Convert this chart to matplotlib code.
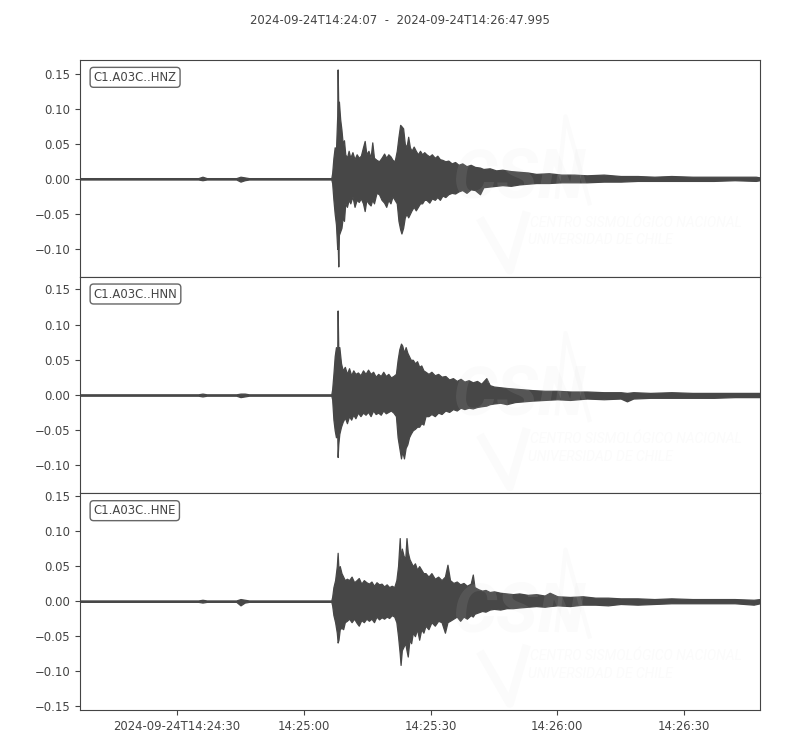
import matplotlib
matplotlib.use("Agg")
import matplotlib.pyplot as plt
import numpy as np

# ---------------- data (seconds after 2024-09-24T14:24:07, min/max envelope) -------------
title_text = "2024-09-24T14:24:07  -  2024-09-24T14:26:47.995"
trace_ids = ["C1.A03C..HNZ", "C1.A03C..HNN", "C1.A03C..HNE"]
duration = 160.995

xtick_seconds = [23, 53, 83, 113, 143]
xtick_labels = ["2024-09-24T14:24:30", "14:25:00", "14:25:30", "14:26:00", "14:26:30"]

hnz_t = [0, 28, 29, 30, 37, 38, 39, 40, 59.5, 59.7, 60.0, 60.3, 60.6, 60.9, 61.0, 61.15, 61.3,
         61.6, 61.9, 62.2, 62.5, 62.8, 63.2, 63.6, 64.0, 64.5, 65.0, 65.5, 66.0, 66.5, 67.0,
         67.4, 67.8, 68.3, 68.8, 69.2, 69.6, 70.2, 70.8, 71.4, 72.0, 72.5, 73.0, 73.5, 74.0,
         74.5, 75.0, 75.4, 75.8, 76.1, 76.5, 76.9, 77.3, 77.7, 78.1, 78.5, 79.0, 79.5, 80.0,
         80.5, 81.0, 81.5, 82.0, 82.7, 83.3, 84.0, 84.6, 85.2, 85.8, 86.5, 87.2, 88.0, 88.8,
         89.6, 90.5, 91.5, 92.5, 93.5, 94.7, 95.5, 97, 98.5, 100, 102, 104, 106, 108, 111,
         114, 117, 120, 124, 128, 132, 136, 140, 145, 150, 155, 160, 161]
hnz_max = [0.001, 0.001, 0.003, 0.001, 0.001, 0.003, 0.002, 0.001, 0.001, 0.008, 0.03, 0.045,
           0.04, 0.09, 0.156, 0.10, 0.11, 0.085, 0.07, 0.05, 0.055, 0.035, 0.03, 0.04, 0.03,
           0.038, 0.028, 0.035, 0.03, 0.033, 0.045, 0.054, 0.035, 0.04, 0.03, 0.052, 0.03,
           0.027, 0.025, 0.03, 0.036, 0.03, 0.035, 0.032, 0.027, 0.025, 0.04, 0.06, 0.077,
           0.075, 0.072, 0.05, 0.045, 0.06, 0.045, 0.04, 0.046, 0.04, 0.035, 0.04, 0.035,
           0.038, 0.035, 0.032, 0.035, 0.03, 0.033, 0.028, 0.027, 0.025, 0.026, 0.022, 0.024,
           0.02, 0.022, 0.018, 0.02, 0.017, 0.016, 0.014, 0.015, 0.012, 0.013, 0.011, 0.01,
           0.009, 0.007, 0.008, 0.006, 0.006, 0.005, 0.006, 0.004, 0.004, 0.003, 0.004,
           0.003, 0.003, 0.003, 0.003, 0.002]
hnz_min = [-0.001, -0.001, -0.002, -0.001, -0.001, -0.004, -0.002, -0.001, -0.001, -0.006,
           -0.03, -0.05, -0.065, -0.10, -0.09, -0.125, -0.08, -0.075, -0.07, -0.055, -0.06,
           -0.035, -0.04, -0.03, -0.035, -0.025, -0.04, -0.03, -0.033, -0.028, -0.035, -0.046,
           -0.03, -0.035, -0.038, -0.03, -0.035, -0.02, -0.022, -0.03, -0.034, -0.04, -0.03,
           -0.035, -0.025, -0.03, -0.035, -0.06, -0.072, -0.078, -0.07, -0.055, -0.05, -0.055,
           -0.05, -0.045, -0.04, -0.045, -0.04, -0.035, -0.035, -0.03, -0.03, -0.034, -0.028,
           -0.03, -0.026, -0.03, -0.024, -0.026, -0.022, -0.02, -0.021, -0.018, -0.016, -0.02,
           -0.015, -0.016, -0.022, -0.012, -0.011, -0.01, -0.009, -0.01, -0.008, -0.007,
           -0.006, -0.006, -0.005, -0.005, -0.005, -0.004, -0.004, -0.003, -0.003, -0.003,
           -0.003, -0.003, -0.002, -0.003, -0.002]

hnn_t = [0, 28, 29, 30, 37, 38, 39, 40, 59.5, 59.7, 60.0, 60.3, 60.6, 60.9, 61.0, 61.15, 61.4,
         61.8, 62.2, 62.7, 63.2, 63.7, 64.2, 64.7, 65.2, 65.8, 66.4, 67.0, 67.6, 68.2, 68.8,
         69.4, 70.0, 70.6, 71.2, 71.8, 72.4, 73.0, 73.6, 74.2, 74.8, 75.2, 75.6, 76.0, 76.3,
         76.7, 77.1, 77.5, 77.9, 78.3, 78.8, 79.3, 79.8, 80.3, 80.8, 81.3, 81.8, 82.5, 83.2,
         84.0, 84.8, 85.6, 86.5, 87.4, 88.3, 89.2, 90.1, 91.0, 92.0, 93.0, 94.0, 95.0, 96.2,
         97.0, 98.0, 99.5, 101, 103, 105, 107, 110, 113, 116, 120, 124, 128, 129.5, 131, 135,
         140, 145, 150, 155, 161]
hnn_max = [0.001, 0.001, 0.002, 0.001, 0.001, 0.002, 0.002, 0.001, 0.001, 0.008, 0.03, 0.055,
           0.068, 0.06, 0.12, 0.065, 0.068, 0.045, 0.035, 0.04, 0.03, 0.038, 0.028, 0.035,
           0.03, 0.032, 0.028, 0.035, 0.03, 0.036, 0.03, 0.033, 0.026, 0.03, 0.027, 0.033,
           0.027, 0.03, 0.025, 0.027, 0.03, 0.05, 0.065, 0.073, 0.07, 0.06, 0.068, 0.06, 0.055,
           0.05, 0.05, 0.045, 0.048, 0.04, 0.042, 0.035, 0.033, 0.03, 0.033, 0.028, 0.03,
           0.026, 0.027, 0.022, 0.024, 0.02, 0.023, 0.019, 0.021, 0.018, 0.02, 0.016, 0.024,
           0.014, 0.012, 0.011, 0.01, 0.009, 0.008, 0.007, 0.006, 0.006, 0.005, 0.005, 0.004,
           0.004, 0.003, 0.004, 0.003, 0.004, 0.003, 0.003, 0.003, 0.003]
hnn_min = [-0.001, -0.001, -0.002, -0.001, -0.001, -0.003, -0.002, -0.001, -0.001, -0.006,
           -0.035, -0.05, -0.06, -0.055, -0.088, -0.07, -0.055, -0.045, -0.038, -0.032, -0.04,
           -0.03, -0.035, -0.028, -0.033, -0.025, -0.03, -0.025, -0.028, -0.024, -0.03, -0.022,
           -0.027, -0.025, -0.028, -0.022, -0.026, -0.024, -0.022, -0.025, -0.03, -0.06, -0.075,
           -0.09, -0.08, -0.09, -0.075, -0.07, -0.06, -0.055, -0.05, -0.048, -0.045, -0.045,
           -0.04, -0.042, -0.03, -0.03, -0.027, -0.03, -0.025, -0.027, -0.022, -0.024, -0.02,
           -0.022, -0.018, -0.02, -0.018, -0.019, -0.017, -0.016, -0.015, -0.013, -0.012,
           -0.011, -0.013, -0.01, -0.009, -0.008, -0.007, -0.006, -0.007, -0.005, -0.006,
           -0.005, -0.009, -0.005, -0.004, -0.004, -0.004, -0.004, -0.003, -0.003]

hne_t = [0, 28, 29, 30, 37, 38, 39, 40, 59.5, 59.7, 60.0, 60.4, 60.8, 61.0, 61.2, 61.5, 61.9,
         62.3, 62.7, 63.2, 63.7, 64.3, 64.9, 65.5, 66.0, 66.6, 67.2, 67.8, 68.4, 69.0, 69.6,
         70.2, 70.8, 71.4, 72.0, 72.6, 73.2, 73.8, 74.4, 74.9, 75.3, 75.7, 75.9, 76.2, 76.6,
         77.0, 77.3, 77.6, 78.0, 78.4, 78.8, 79.3, 79.8, 80.3, 80.8, 81.3, 81.8, 82.5, 83.2,
         84.0, 84.8, 85.6, 86.4, 87.0, 87.6, 88.4, 89.2, 90.0, 90.8, 91.6, 92.5, 93.0, 93.4,
         94.3, 95.2, 96.0, 97, 98, 99.5, 101, 102.5, 104, 106, 108, 110, 111.2, 113, 116, 119,
         122, 125, 128, 132, 136, 140, 145, 150, 155, 159.5, 161]
hne_max = [0.001, 0.001, 0.002, 0.001, 0.001, 0.003, 0.002, 0.001, 0.001, 0.006, 0.02, 0.03,
           0.05, 0.069, 0.045, 0.05, 0.04, 0.035, 0.03, 0.032, 0.03, 0.035, 0.027, 0.03, 0.033,
           0.025, 0.03, 0.027, 0.025, 0.028, 0.022, 0.027, 0.024, 0.025, 0.021, 0.024, 0.02,
           0.022, 0.02, 0.03, 0.05, 0.09, 0.06, 0.075, 0.065, 0.06, 0.09, 0.07, 0.06, 0.055,
           0.05, 0.054, 0.045, 0.05, 0.045, 0.04, 0.04, 0.035, 0.04, 0.032, 0.035, 0.03, 0.035,
           0.052, 0.03, 0.026, 0.028, 0.024, 0.026, 0.022, 0.025, 0.038, 0.02, 0.017, 0.015,
           0.016, 0.013, 0.014, 0.012, 0.011, 0.01, 0.011, 0.009, 0.01, 0.008, 0.012, 0.007,
           0.006, 0.007, 0.005, 0.005, 0.004, 0.004, 0.003, 0.004, 0.003, 0.003, 0.003, 0.002,
           0.003]
hne_min = [-0.001, -0.001, -0.002, -0.001, -0.001, -0.006, -0.002, -0.001, -0.001, -0.006,
           -0.02, -0.03, -0.045, -0.059, -0.055, -0.04, -0.038, -0.04, -0.03, -0.028, -0.025,
           -0.03, -0.025, -0.031, -0.035, -0.027, -0.03, -0.025, -0.028, -0.025, -0.03, -0.022,
           -0.026, -0.023, -0.025, -0.022, -0.024, -0.02, -0.022, -0.03, -0.05, -0.075, -0.091,
           -0.07, -0.065, -0.06, -0.07, -0.079, -0.055, -0.06, -0.045, -0.05, -0.04, -0.055,
           -0.04, -0.045, -0.035, -0.04, -0.03, -0.035, -0.028, -0.03, -0.045, -0.03, -0.028,
           -0.025, -0.022, -0.028, -0.022, -0.025, -0.02, -0.022, -0.018, -0.016, -0.014,
           -0.015, -0.012, -0.011, -0.012, -0.01, -0.01, -0.009, -0.008, -0.007, -0.008,
           -0.007, -0.006, -0.007, -0.005, -0.005, -0.006, -0.004, -0.005, -0.004, -0.003,
           -0.003, -0.003, -0.003, -0.005, -0.003]

ylims = [(-0.1396, 0.1695), (-0.1396, 0.168), (-0.1553, 0.1538)]

# ---------------- figure -------------
plt.rcParams['font.family'] = ['DejaVu Sans']
ink = '#444444'
wave = '#474747'

fig = plt.figure(figsize=(8, 7.5), dpi=100)
fig.subplots_adjust(left=0.1, right=0.95, top=0.92, bottom=0.0533, hspace=0)
axes = fig.subplots(3, 1, sharex=True)

series = [(hnz_t, hnz_max, hnz_min), (hnn_t, hnn_max, hnn_min), (hne_t, hne_max, hne_min)]

for i, (ax, (t, up, lo)) in enumerate(zip(axes, series)):
    t = np.asarray(t); up = np.asarray(up); lo = np.asarray(lo)
    ax.fill_between(t, lo, up, color=wave, linewidth=0.9, edgecolor=wave, zorder=2)
    ax.set_xlim(0, duration)
    ax.set_yticks([-0.15, -0.10, -0.05, 0.0, 0.05, 0.10, 0.15])
    ax.set_ylim(*ylims[i])
    for s in ax.spines.values():
        s.set_color(ink)
    ax.tick_params(axis='both', colors=ink, labelsize=8.33, labelcolor=ink)
    ax.text(0.02, 0.95, trace_ids[i], transform=ax.transAxes, va='top', ha='left',
            fontsize=8.33, color=ink, zorder=5,
            bbox=dict(boxstyle='round', fc='w', ec='#555555', lw=1.0, alpha=0.9))
    # very faint watermark
    wm = dict(color='#d8d8d8', alpha=0.1, zorder=4, transform=ax.transAxes)
    ax.text(0.548, 0.45, "CSN", fontsize=50, fontweight='bold', style='italic',
            va='center', ha='left', family='Roboto', **wm)
    ax.plot([0.701, 0.714, 0.75], [0.36, 0.74, 0.33], lw=3, solid_capstyle='butt', **wm)
    ax.plot([0.588, 0.632, 0.657], [0.27, 0.03, 0.30], lw=6, solid_capstyle='butt', **wm)
    ax.text(0.662, 0.25, "CENTRO SISMOLÓGICO NACIONAL", fontsize=10, style='italic',
            va='center', ha='left', family='Roboto', **wm)
    ax.text(0.659, 0.168, "UNIVERSIDAD DE CHILE", fontsize=10, style='italic',
            va='center', ha='left', family='Roboto', **wm)
    if i < 2:
        ax.tick_params(axis='x', bottom=False, labelbottom=False)

axes[-1].set_xticks(xtick_seconds)
axes[-1].set_xticklabels(xtick_labels)

fig.suptitle(title_text, y=0.973, va='center', fontsize=8.33, color=ink)
fig.savefig("out.png", dpi=100)
